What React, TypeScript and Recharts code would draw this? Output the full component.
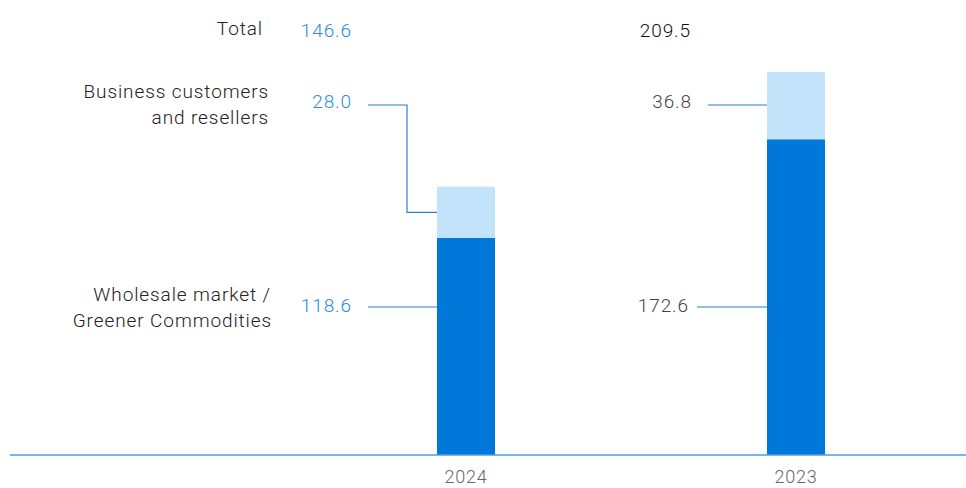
import { BarChart, Bar, XAxis, YAxis, LabelList } from "recharts";

const years = ["2024", "2023"];
const wholesale = [118.6, 172.6];
const business = [28.0, 36.8];
const totals = [146.6, 209.5];

const chartData = years.map((year, i) => ({
  year,
  wholesale: wholesale[i],
  business: business[i],
  total: totals[i],
}));

const FONT = "Roboto, 'Noto Sans', sans-serif";
const FS = 19;
const LS = 0.9;
const BLUE_TEXT = "#2b8ae2";
const LINE = "#2a7fd6";
const valueColor = (i: number) => (i === 0 ? BLUE_TEXT : "#444");

// baseline offset so a line of text is visually centred on y
const base = (y: number) => y + 7;

const textStyle = { fontSize: FS, fontFamily: FONT, fontWeight: 300, letterSpacing: LS };

const WholesaleLabel = (props: any) => {
  const { x, value, index } = props;
  const rowY = 307;
  const start = x - (index === 0 ? 69 : 70);
  const gap = index === 0 ? 16 : 8;
  return (
    <g>
      <line x1={start} y1={rowY} x2={x} y2={rowY} stroke={LINE} strokeWidth={1.2} />
      <text x={start - gap} y={base(rowY - 2)} textAnchor="end" style={textStyle} fill={valueColor(index)}>
        {Number(value).toFixed(1)}
      </text>
      {index === 0 && (
        <g style={textStyle} fill="#222" textAnchor="end">
          <text x={x - 166} y={base(rowY - 13)}>Wholesale market /</text>
          <text x={x - 165} y={base(rowY + 13)}>Greener Commodities</text>
        </g>
      )}
    </g>
  );
};

const BusinessLabel = (props: any) => {
  const { x, y, height, value, index } = props;
  const midY = y + height / 2;
  const rowY = 105;
  const start = x - (index === 0 ? 69 : 59);
  const elbow = x - 30;
  const total = totals[index];
  const totalRight = x - (index === 0 ? 85 : 76);
  const straight = Math.abs(midY - rowY) < 4;
  return (
    <g>
      {straight ? (
        <line x1={start} y1={rowY} x2={x} y2={rowY} stroke={LINE} strokeWidth={1.2} />
      ) : (
        <polyline
          points={`${start},${rowY} ${elbow},${rowY} ${elbow},${midY} ${x},${midY}`}
          fill="none"
          stroke={LINE}
          strokeWidth={1.2}
        />
      )}
      <text x={start - 16} y={base(rowY - 4)} textAnchor="end" style={textStyle} fill={valueColor(index)}>
        {Number(value).toFixed(1)}
      </text>
      <text x={totalRight} y={base(30)} textAnchor="end" style={textStyle} fill={index === 0 ? BLUE_TEXT : "#111"}>
        {total.toFixed(1)}
      </text>
      {index === 0 && (
        <g style={textStyle} fill="#222" textAnchor="end">
          <text x={x - 174} y={base(28)}>Total</text>
          <text x={x - 168} y={base(91)}>Business customers</text>
          <text x={x - 168} y={base(117)}>and resellers</text>
        </g>
      )}
    </g>
  );
};

export default function App() {
  return (
    <div style={{ position: "absolute", left: 0, top: 0, background: "#fff" }}>
      <BarChart width={966} height={488} data={chartData} margin={{ top: 16, right: 0, left: 10, bottom: 0 }}>
        <XAxis
          dataKey="year"
          height={33}
          padding={{ left: 291, right: 5 }}
          tickLine={false}
          axisLine={{ stroke: "#4b9de3", strokeWidth: 1.5 }}
          tick={{ fill: "#666", fontSize: 18, fontFamily: FONT, fontWeight: 300, letterSpacing: 0.8 }}
          tickMargin={9}
        />
        <YAxis hide domain={[0, 240]} />
        <Bar dataKey="wholesale" stackId="a" fill="#0078d9" barSize={58} isAnimationActive={false}>
          <LabelList dataKey="wholesale" content={WholesaleLabel} />
        </Bar>
        <Bar dataKey="business" stackId="a" fill="#c3e3fa" barSize={58} isAnimationActive={false}>
          <LabelList dataKey="business" content={BusinessLabel} />
        </Bar>
      </BarChart>
    </div>
  );
}
